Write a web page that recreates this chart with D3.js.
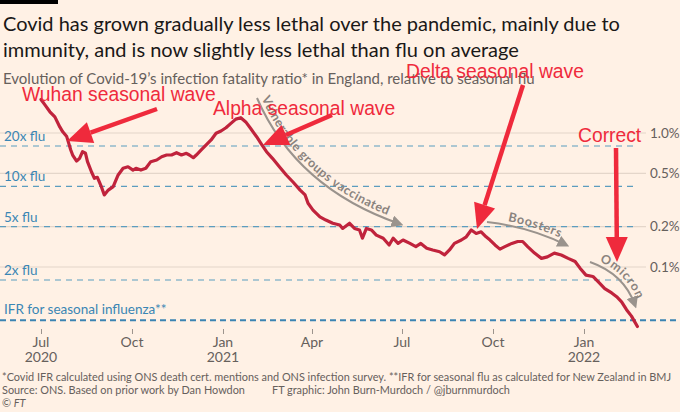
<!DOCTYPE html>
<html>
<head>
<meta charset="utf-8">
<script src="https://cdn.jsdelivr.net/npm/d3@7"></script>
<style>
  body { margin: 0; background: #fff1e5; }
  svg { display: block; font-family: Lato, "Open Sans", sans-serif; }
</style>
</head>
<body>
<svg id="chart" width="680" height="412"></svg>
<script>
// IFR (%), roughly every 5 days
const dates = [
  "2020-07-01","2020-07-05","2020-07-10","2020-07-15","2020-07-20","2020-07-23","2020-07-27","2020-07-29","2020-07-31",
  "2020-08-02","2020-08-06","2020-08-09","2020-08-12","2020-08-15","2020-08-17","2020-08-21","2020-08-24","2020-08-27","2020-08-31",
  "2020-09-03","2020-09-07","2020-09-12","2020-09-17","2020-09-22","2020-09-27",
  "2020-10-02","2020-10-05","2020-10-10","2020-10-15","2020-10-20","2020-10-26","2020-10-31",
  "2020-11-05","2020-11-10","2020-11-15","2020-11-20","2020-11-25","2020-11-28",
  "2020-12-02","2020-12-05","2020-12-10","2020-12-15","2020-12-20","2020-12-25","2020-12-30",
  "2021-01-04","2021-01-09","2021-01-14","2021-01-19","2021-01-24","2021-01-29",
  "2021-02-04","2021-02-09","2021-02-14","2021-02-20","2021-02-27",
  "2021-03-06","2021-03-13","2021-03-20","2021-03-25","2021-03-28",
  "2021-04-02","2021-04-09","2021-04-15","2021-04-22","2021-04-29",
  "2021-05-02","2021-05-09","2021-05-14","2021-05-19","2021-05-22","2021-05-26","2021-05-31",
  "2021-06-05","2021-06-12","2021-06-18","2021-06-22","2021-06-27",
  "2021-07-02","2021-07-09","2021-07-15","2021-07-20","2021-07-26",
  "2021-08-01","2021-08-08","2021-08-13","2021-08-18","2021-08-23","2021-08-30",
  "2021-09-04","2021-09-09","2021-09-14","2021-09-19","2021-09-24","2021-09-28",
  "2021-10-03","2021-10-08","2021-10-13","2021-10-20","2021-10-26","2021-10-31",
  "2021-11-05","2021-11-12","2021-11-19","2021-11-25",
  "2021-12-02","2021-12-09","2021-12-16","2021-12-23","2021-12-28",
  "2022-01-03","2022-01-10","2022-01-15","2022-01-22","2022-01-29",
  "2022-02-03","2022-02-08","2022-02-13","2022-02-18","2022-02-24"
];
const ifr = [
  1.78,1.62,1.44,1.32,1.11,1.02,0.94,0.84,0.75,
  0.685,0.618,0.647,0.725,0.706,0.611,0.514,0.459,0.467,0.398,
  0.345,0.375,0.398,0.486,0.545,0.560,
  0.529,0.545,0.529,0.545,0.611,0.629,0.665,
  0.685,0.685,0.713,0.685,0.705,0.685,
  0.654,0.685,0.747,0.814,0.887,0.995,1.035,
  1.095,1.18,1.27,1.30,1.21,1.08,
  0.938,0.824,0.725,0.647,0.560,
  0.486,0.429,0.375,0.345,0.299,
  0.266,0.237,0.224,0.212,0.206,
  0.194,0.212,0.194,0.189,0.164,0.194,0.189,
  0.173,0.164,0.146,0.164,0.150,
  0.159,0.150,0.142,0.150,0.138,
  0.134,0.130,0.123,0.134,0.150,0.159,
  0.168,0.189,0.178,0.183,0.168,0.159,
  0.146,0.136,0.142,0.150,0.155,0.155,
  0.142,0.127,0.116,0.119,
  0.127,0.123,0.116,0.110,0.098,
  0.087,0.085,0.078,0.069,0.064,
  0.060,0.055,0.048,0.043,0.036
];

const fluIFR = 0.04;
const fluMultiples = [20, 10, 5, 2];
const fluLabels = ["20x flu", "10x flu", "5x flu", "2x flu"];
const pctTicks = [1.0, 0.5, 0.2, 0.1];
const pctLabels = ["1.0%", "0.5%", "0.2%", "0.1%"];
const monthTicks = ["2020-07-01","2020-10-01","2021-01-01","2021-04-01","2021-07-01","2021-10-01","2022-01-01"];
const monthLabels = ["Jul", "Oct", "Jan", "Apr", "Jul", "Oct", "Jan"];
const yearLabels = ["2020", "", "2021", "", "", "", "2022"];

const parse = d3.timeParse("%Y-%m-%d");
const data = dates.map((d, i) => ({ date: parse(d), v: ifr[i] }));

const svg = d3.select("#chart");
const W = 680;

const x = d3.scaleTime()
  .domain([parse("2020-07-01"), parse("2022-01-01")])
  .range([41, 584]);
const y = d3.scaleLog()
  .domain([0.1, 1])
  .range([267, 133]);

const grey = "#66605c";
const blue = "#3a86b4";
const red = "#ef2a3c";

svg.append("rect").attr("width", W).attr("height", 412).attr("fill", "#fff1e5");
svg.append("rect").attr("width", 58).attr("height", 4).attr("fill", "#000");

// titles
const title = svg.append("text").attr("x", 3).attr("font-size", 20).attr("fill", "#1a1817");
title.append("tspan").attr("x", 3).attr("y", 31).text("Covid has grown gradually less lethal over the pandemic, mainly due to");
title.append("tspan").attr("x", 3).attr("y", 57).text("immunity, and is now slightly less lethal than flu on average");

svg.append("text").attr("x", 3).attr("y", 84).attr("font-size", 15).attr("fill", grey)
  .text("Evolution of Covid-19\u2019s infection fatality ratio* in England, relative to seasonal flu");

// solid % gridlines
svg.append("g").selectAll("line").data(pctTicks).join("line")
  .attr("x1", 0).attr("x2", 646)
  .attr("y1", d => y(d)).attr("y2", d => y(d))
  .attr("stroke", "#e4d6ca").attr("stroke-width", 1.2);

svg.append("g").selectAll("text").data(pctTicks).join("text")
  .attr("x", 650).attr("y", d => y(d)).attr("dy", "0.35em")
  .attr("font-size", 13.5).attr("fill", grey)
  .text((d, i) => pctLabels[i]);

// flu multiple dashed lines
svg.append("g").selectAll("line").data(fluMultiples).join("line")
  .attr("x1", 0).attr("x2", 638)
  .attr("y1", d => y(d * fluIFR)).attr("y2", d => y(d * fluIFR))
  .attr("stroke", "#5b9dbf").attr("stroke-width", 1.2)
  .attr("stroke-dasharray", "6,5");

svg.append("g").selectAll("text").data(fluMultiples).join("text")
  .attr("x", 4).attr("y", d => y(d * fluIFR) - 5)
  .attr("font-size", 13.5).attr("fill", blue)
  .text((d, i) => fluLabels[i]);

svg.append("line")
  .attr("x1", 0).attr("x2", W)
  .attr("y1", y(fluIFR)).attr("y2", y(fluIFR))
  .attr("stroke", "#3b84b3").attr("stroke-width", 2)
  .attr("stroke-dasharray", "6,4");
svg.append("text").attr("x", 4).attr("y", y(fluIFR) - 6)
  .attr("font-size", 13.5).attr("fill", blue)
  .text("IFR for seasonal influenza**");

// x axis
const xAxis = svg.append("g")
  .attr("transform", "translate(0,329)")
  .call(d3.axisBottom(x).tickValues(monthTicks.map(parse)).tickSize(5).tickFormat(""));
xAxis.select(".domain").remove();
xAxis.selectAll(".tick line").attr("stroke", "#9c948d");

svg.append("g").selectAll("text").data(monthTicks).join("text")
  .attr("x", d => x(parse(d))).attr("y", 347)
  .attr("text-anchor", "middle").attr("font-size", 14).attr("fill", grey)
  .text((d, i) => monthLabels[i]);
svg.append("g").selectAll("text").data(monthTicks).join("text")
  .attr("x", d => x(parse(d))).attr("y", 362)
  .attr("text-anchor", "middle").attr("font-size", 14).attr("fill", grey)
  .text((d, i) => yearLabels[i]);

// grey annotation arrows
const defs = svg.append("defs");
defs.append("marker").attr("id", "gh")
  .attr("viewBox", "0 0 10 10").attr("refX", 7).attr("refY", 5)
  .attr("markerWidth", 12).attr("markerHeight", 12)
  .attr("markerUnits", "userSpaceOnUse").attr("orient", "auto")
  .append("path").attr("d", "M0,0L10,5L0,10Z").attr("fill", "#9a938d");

const notes = [
  { id: "n1", d: "M257,98 Q296,188 400,224", text: "Vulnerable groups vaccinated", off: 2, size: 12.5 },
  { id: "n2", d: "M487,222 Q530,227 566,245", text: "Boosters", off: 20, size: 12.5 },
  { id: "n3", d: "M590,262 Q624,274 635,305", text: "Omicron", off: 8, size: 12.5 }
];
notes.forEach(n => {
  svg.append("path").attr("id", n.id).attr("d", n.d)
    .attr("fill", "none").attr("stroke", "#9a938d").attr("stroke-width", 2)
    .attr("marker-end", "url(#gh)");
  svg.append("text").attr("font-size", n.size).attr("font-weight", "bold")
    .attr("fill", "#8a837e").attr("letter-spacing", 0.6).attr("dy", -4)
    .append("textPath").attr("href", "#" + n.id).attr("startOffset", n.off)
    .text(n.text);
});

// the IFR line
svg.append("path").datum(data)
  .attr("fill", "none").attr("stroke", "#c0233c").attr("stroke-width", 3.2)
  .attr("stroke-linejoin", "round").attr("stroke-linecap", "round")
  .attr("d", d3.line().x(d => x(d.date)).y(d => y(d.v)));

// footnotes
const foot = svg.append("g").attr("font-size", 10.9).attr("fill", grey);
foot.append("text").attr("x", 2).attr("y", 381)
  .text("*Covid IFR calculated using ONS death cert. mentions and ONS infection survey. **IFR for seasonal flu as calculated for New Zealand in BMJ");
foot.append("text").attr("x", 2).attr("y", 394).text("Source: ONS. Based on prior work by Dan Howdon");
foot.append("text").attr("x", 272).attr("y", 394).text("FT graphic: John Burn-Murdoch / @jburnmurdoch");
const ft = foot.append("text").attr("x", 2).attr("y", 407);
ft.append("tspan").text("\u00a9 ");
ft.append("tspan").attr("font-style", "italic").text("FT");

// red overlay annotations
function redArrow(x1, y1, x2, y2) {
  const a = Math.atan2(y2 - y1, x2 - x1), L = 25, H = 11;
  const bx = x2 - L * Math.cos(a), by = y2 - L * Math.sin(a);
  svg.append("line").attr("x1", x1).attr("y1", y1).attr("x2", bx).attr("y2", by)
    .attr("stroke", red).attr("stroke-width", 4.5);
  svg.append("path")
    .attr("d", `M${x2},${y2}L${bx + H * Math.sin(a)},${by - H * Math.cos(a)}L${bx - H * Math.sin(a)},${by + H * Math.cos(a)}Z`)
    .attr("fill", red);
}
redArrow(157, 109, 67, 141);
redArrow(332, 115, 263, 145);
redArrow(523, 85, 477, 229);
redArrow(616, 148, 617, 262);

const redLabels = [
  { t: "Wuhan seasonal wave", x: 22, y: 101 },
  { t: "Alpha seasonal wave", x: 213, y: 115 },
  { t: "Delta seasonal wave", x: 406, y: 78 },
  { t: "Correct", x: 578, y: 142 }
];
svg.append("g").selectAll("text").data(redLabels).join("text")
  .attr("x", d => d.x).attr("y", d => d.y)
  .attr("font-family", "'Liberation Sans', Arial, sans-serif")
  .attr("font-size", 19.3).attr("fill", red)
  .text(d => d.t);
</script>
</body>
</html>
